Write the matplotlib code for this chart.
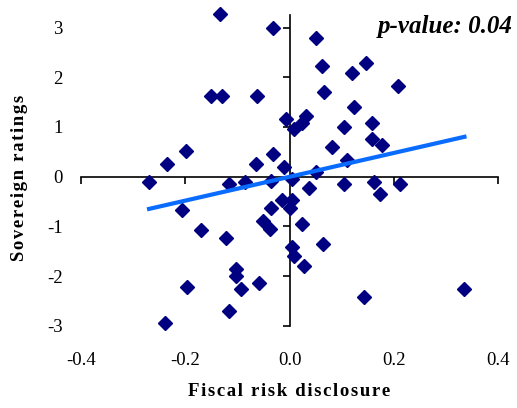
import numpy as np
import matplotlib
matplotlib.use("Agg")
import matplotlib.pyplot as plt

plt.rcParams['font.family'] = ['Liberation Serif', 'DejaVu Serif']
plt.rcParams['axes.unicode_minus'] = False

# fiscal risk disclosure (x) vs sovereign ratings (y)
disclosure = [-0.134, -0.031, -0.150, -0.130, -0.062, -0.007, 0.008, -0.199,
              -0.234, -0.064, -0.031, -0.010, 0.050, 0.062, 0.146, 0.119,
              0.208, 0.066, 0.124, 0.032, 0.024, 0.104, 0.158, 0.158,
              0.178, 0.081, 0.111, 0.050, 0.004, 0.038, 0.104, 0.162,
              0.173, 0.212, -0.014, 0.005, 0.000, 0.023, 0.065, 0.004,
              0.008, 0.027, 0.143, 0.335, -0.269, -0.115, -0.085, -0.035,
              -0.206, -0.035, -0.050, -0.038, -0.169, -0.122, -0.103, -0.103,
              -0.196, -0.092, -0.058, -0.115, -0.238]
ratings = [3.27, 2.99, 1.63, 1.63, 1.63, 1.16, 0.96, 0.52,
           0.25, 0.25, 0.45, 0.20, 2.79, 2.23, 2.28, 2.08,
           1.83, 1.71, 1.40, 1.21, 1.08, 1.00, 1.07, 0.76,
           0.64, 0.60, 0.33, 0.09, -0.05, -0.23, -0.15, -0.11,
           -0.35, -0.15, -0.47, -0.47, -0.64, -0.95, -1.35, -1.41,
           -1.60, -1.79, -2.42, -2.26, -0.11, -0.15, -0.10, -0.08,
           -0.68, -0.63, -0.90, -1.06, -1.07, -1.23, -1.85, -1.99,
           -2.23, -2.27, -2.15, -2.70, -2.94]
p_value = "0.04"

x_ticks = [-0.4, -0.2, 0.0, 0.2, 0.4]
y_ticks = [-3, -2, -1, 0, 1, 2, 3]


def spaced(s):
    # wider letter spacing, like the original rendering
    return '\u200a'.join(s)


x = np.asarray(disclosure)
y = np.asarray(ratings)
slope, intercept = np.polyfit(x, y, 1)
xl = np.array([x.min(), x.max()])

fig = plt.figure(figsize=(5.17, 4.08), dpi=100)
pos = [0.156, 0.2017, 0.808, 0.7613]

# outer axes: only carries the tick labels at the edges
ax = fig.add_axes(pos)
ax.set_xlim(-0.4, 0.4)
ax.set_ylim(-3, 3.25)
for s in ax.spines.values():
    s.set_visible(False)
ax.set_xticks(x_ticks)
ax.set_xticklabels(['%.1f' % v for v in x_ticks])
ax.set_yticks(y_ticks)
ax.tick_params(length=0, labelsize=13.5)
ax.tick_params(axis='y', pad=13)
ax.tick_params(axis='x', pad=19)
ax.set_xlabel(spaced('Fiscal risk disclosure'), fontsize=13.5,
              fontweight='bold', labelpad=10)
ax.set_ylabel(spaced('Sovereign ratings'), fontsize=13.5,
              fontweight='bold')
ax.yaxis.set_label_coords(-0.125, 0.475)

# inner axes: axes crossing at the origin
ax2 = fig.add_axes(pos, sharex=ax, sharey=ax)
ax2.patch.set_alpha(0)
ax2.spines['left'].set_position(('data', 0))
ax2.spines['bottom'].set_position(('data', 0))
ax2.spines['right'].set_visible(False)
ax2.spines['top'].set_visible(False)
ax2.spines['left'].set_linewidth(1.2)
ax2.spines['bottom'].set_linewidth(1.2)
ax2.tick_params(direction='out', length=5, width=1.2,
                labelleft=False, labelbottom=False)

ax2.plot(x, y, 'D', color='#000080', ms=7.5, mec='#000080', clip_on=False,
         zorder=3)
ax2.plot(xl, slope * xl + intercept, color='#0a6cff', lw=3, zorder=4)

fig.text(0.992, 0.918, 'p-value: ' + p_value, ha='right', va='baseline',
         fontsize=18, fontweight='bold', fontstyle='italic')

fig.savefig('out.png', dpi=100)
